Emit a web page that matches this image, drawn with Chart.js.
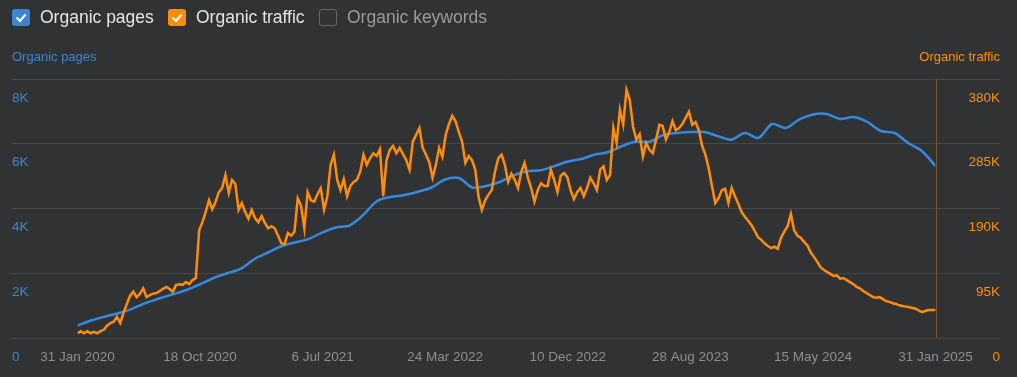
<!DOCTYPE html>
<html>
<head>
<meta charset="utf-8">
<script src="https://cdn.jsdelivr.net/npm/chart.js@4/dist/chart.umd.min.js"></script>
<style>
  html, body { margin: 0; padding: 0; background: #313234; }
  body { width: 1017px; height: 377px; position: relative; overflow: hidden; font-family: "Liberation Sans", Arial, sans-serif; }
  #chart-wrap { position: absolute; left: 0; top: 0; width: 1017px; height: 377px; }
  .box { position: absolute; top: 9px; width: 18px; height: 17px; border-radius: 3px; box-sizing: border-box; }
  .box svg { position: absolute; left: 0; top: 0; }
  .blue { background: #3a86d6; }
  .orange { background: #ff8c0a; }
  .empty { border: 1px solid #66676a; }
  .lbl { position: absolute; top: 6px; font-size: 17.5px; line-height: 22px; color: #e4e4e4; white-space: nowrap; }
  .lbl.off { color: #9a9a9a; }
  .axis-title { position: absolute; top: 49px; font-size: 13px; line-height: 16px; white-space: nowrap; }
</style>
</head>
<body>
<div id="chart-wrap"><canvas id="trafficChart"></canvas></div>

<!-- Legend (checkboxes) -->
<div class="box blue" style="left:12px"><svg width="18" height="17"><polyline points="4.5,8.5 8,12 13.5,5.5" fill="none" stroke="#fff" stroke-width="2.2"/></svg></div>
<div class="lbl" style="left:40px">Organic pages</div>
<div class="box orange" style="left:168px"><svg width="18" height="17"><polyline points="4.5,8.5 8,12 13.5,5.5" fill="none" stroke="#fff" stroke-width="2.2"/></svg></div>
<div class="lbl" style="left:196px">Organic traffic</div>
<div class="box empty" style="left:319px"></div>
<div class="lbl off" style="left:347px">Organic keywords</div>

<div class="axis-title" style="left:12px; color:#3a86d6">Organic pages</div>
<div class="axis-title" style="right:17px; color:#ff8c0a">Organic traffic</div>

<script>
// Data

// days since 31 Jan 2020
const totalDays = 1827;
const xTickLabels = ["31 Jan 2020", "18 Oct 2020", "6 Jul 2021", "24 Mar 2022", "10 Dec 2022", "28 Aug 2023", "15 May 2024", "31 Jan 2025"];

// Organic pages, one value every 29 days
const pagesStep = 29;
const pagesValues = [
	386, 541, 658, 763, 902, 1081, 1220, 1350, 1483, 1659,
	1853, 1999, 2141, 2440, 2641, 2842, 2956, 3064, 3265, 3413,
	3481, 3806, 4232, 4355, 4417, 4519, 4649, 4896, 4942, 4649,
	4695, 4819, 5020, 5149, 5180, 5304, 5452, 5529, 5668, 5746,
	5931, 6070, 6061, 6271, 6332, 6363, 6363, 6240, 6125, 6332,
	6178, 6610, 6487, 6750, 6904, 6919, 6765, 6827, 6672, 6394,
	6332, 6024, 5776, 5313
];

// Organic traffic (thousands), one value per week
const trafficStep = 7;
const trafficValues = [
	7, 10, 7, 10, 7, 9, 7, 10, 12, 18,
	22, 24, 31, 22, 37, 50, 62, 68, 60, 65,
	73, 60, 63, 65, 66, 69, 72, 75, 72, 68,
	78, 79, 78, 82, 79, 85, 88, 158, 170, 185,
	202, 189, 200, 214, 220, 239, 213, 232, 226, 188,
	198, 185, 175, 188, 176, 170, 179, 169, 161, 164,
	161, 150, 139, 138, 154, 150, 156, 205, 194, 161,
	214, 202, 200, 211, 220, 188, 208, 254, 269, 232,
	217, 233, 208, 223, 229, 232, 244, 269, 254, 264,
	271, 267, 277, 208, 261, 276, 282, 271, 279, 270,
	261, 247, 288, 298, 308, 279, 269, 258, 235, 254,
	279, 266, 298, 314, 326, 318, 302, 288, 257, 267,
	261, 247, 207, 188, 202, 210, 217, 244, 264, 269,
	254, 229, 241, 232, 220, 244, 257, 235, 220, 200,
	217, 227, 223, 223, 247, 232, 214, 238, 242, 236,
	217, 204, 214, 220, 208, 220, 235, 227, 217, 247,
	252, 232, 239, 308, 286, 335, 313, 364, 349, 310,
	291, 299, 266, 286, 276, 271, 291, 313, 311, 291,
	302, 318, 305, 308, 314, 323, 332, 313, 317, 305,
	282, 269, 249, 223, 198, 205, 217, 219, 198, 220,
	208, 197, 185, 178, 172, 166, 157, 148, 144, 139,
	135, 132, 134, 131, 147, 156, 164, 182, 158, 150,
	147, 141, 136, 126, 119, 112, 104, 100, 97, 94,
	91, 92, 87, 88, 85, 82, 79, 75, 73, 69,
	66, 63, 60, 59, 60, 57, 54, 53, 51, 50,
	48, 47, 46, 45, 44, 43, 40, 38, 40, 41,
	41, 41
];

// Build points
const pagesPoints = pagesValues.map((v, i) => ({ x: Math.min(i * pagesStep, totalDays), y: v }));
const trafficPoints = trafficValues.map((v, i) => ({ x: i * trafficStep, y: v * 1000 }));

const gridColor = "#46474a";

// vertical marker at the last date, drawn under the lines
const lastDateMarker = {
	id: "lastDateMarker",
	beforeDatasetsDraw(chart) {
		const ctx = chart.ctx;
		const xPos = Math.round(chart.scales.x.getPixelForValue(totalDays)) + 0.5;
		ctx.save();
		ctx.strokeStyle = "#7d5227";
		ctx.lineWidth = 1;
		ctx.beginPath();
		ctx.moveTo(xPos, chart.chartArea.top);
		ctx.lineTo(xPos, chart.chartArea.bottom);
		ctx.stroke();
		ctx.restore();
	},
};

new Chart(document.getElementById("trafficChart"), {
	type: "line",
	data: {
		datasets: [
			{
				label: "Organic traffic",
				data: trafficPoints,
				yAxisID: "y1",
				borderColor: "#ff8c0a",
				borderWidth: 2.5,
				pointRadius: 0,
				tension: 0,
				order: 0,
			},
			{
				label: "Organic pages",
				data: pagesPoints,
				yAxisID: "y",
				borderColor: "#3589de",
				borderWidth: 2.5,
				pointRadius: 0,
				tension: 0.3,
				order: 1,
			},
		],
	},
	plugins: [lastDateMarker],
	options: {
		responsive: true,
		maintainAspectRatio: false,
		animation: false,
		layout: {
			padding: { left: 12, right: 17, top: 79, bottom: 0 },
		},
		plugins: {
			legend: { display: false },
			tooltip: { enabled: false },
		},
		scales: {
			x: {
				type: "linear",
				min: 0,
				max: totalDays,
				afterFit: function (scale) { scale.height = 39; },
				ticks: {
					stepSize: 261,
					maxRotation: 0,
					autoSkip: false,
					padding: 11,
					color: "#8e8e8e",
					font: { family: "Liberation Sans", size: 13.5 },
					callback: function (value, index) { return xTickLabels[index]; },
				},
				grid: { display: false, drawTicks: false },
				border: { display: false },
			},
			y: {
				position: "left",
				min: 0,
				max: 8000,
				afterFit: function (scale) { scale.width = 65.5; },
				ticks: {
					stepSize: 2000,
					crossAlign: "far",
					labelOffset: 19,
					color: "#3a86d6",
					font: { family: "Liberation Sans", size: 13.5 },
					callback: function (value) { return value === 0 ? "0" : value / 1000 + "K"; },
				},
				grid: {
					color: gridColor,
					tickLength: 66,
				},
				border: { display: false },
			},
			y1: {
				position: "right",
				min: 0,
				max: 380000,
				afterFit: function (scale) { scale.width = 64.5; },
				ticks: {
					stepSize: 95000,
					crossAlign: "far",
					labelOffset: 19,
					color: "#ff8c0a",
					font: { family: "Liberation Sans", size: 13.5 },
					callback: function (value) { return value === 0 ? "0" : value / 1000 + "K"; },
				},
				grid: {
					color: gridColor,
					drawOnChartArea: false,
					tickLength: 65,
				},
				border: { display: false },
			},
		},
	},
});
</script>
</body>
</html>
